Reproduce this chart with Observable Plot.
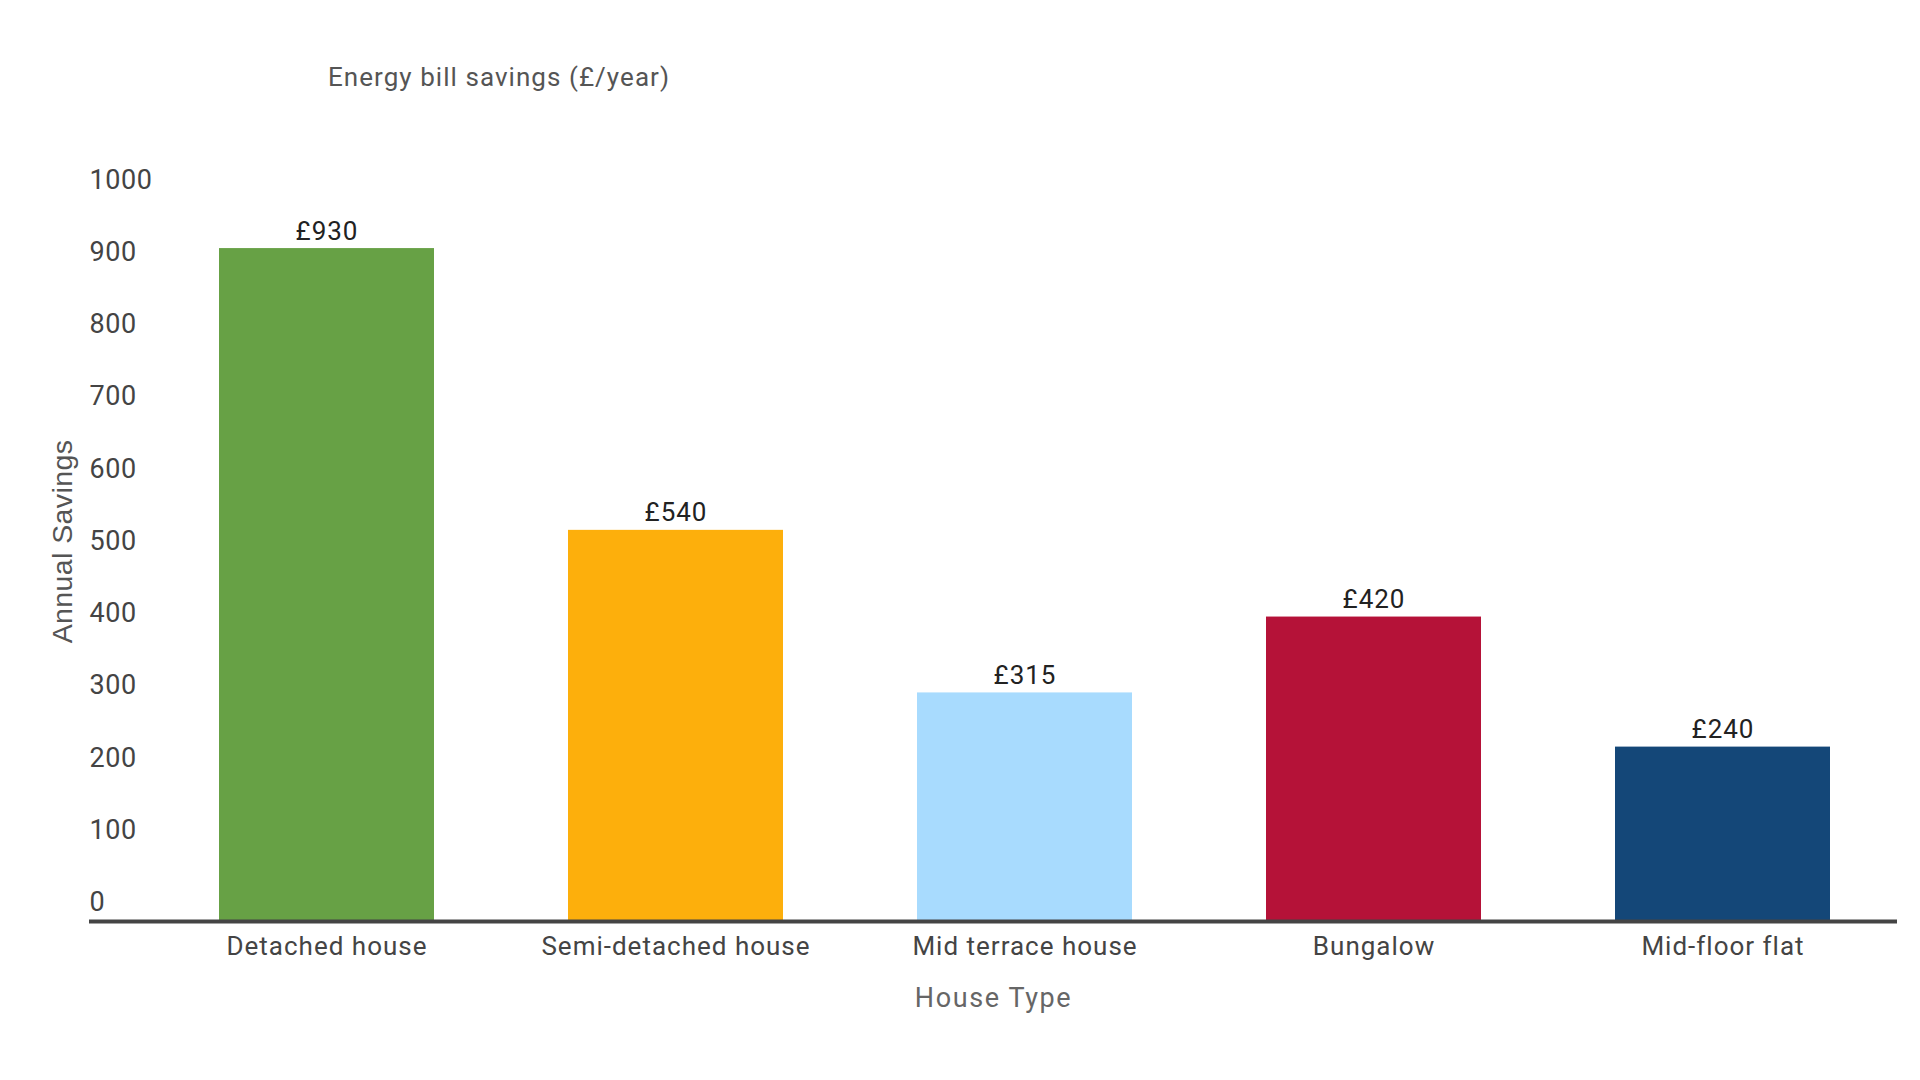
<!DOCTYPE html>
<html>
<head>
<meta charset="utf-8">
<script src="https://cdn.jsdelivr.net/npm/d3@7"></script>
<script src="https://cdn.jsdelivr.net/npm/@observablehq/plot@0.6"></script>
<style>
  html, body { margin: 0; padding: 0; background: #fff; }
  #title { position: relative; height: 120px; width: 1920px; }
  #title span { position: absolute; left: 328px; top: 64px; font: 26px/26px Roboto, sans-serif; letter-spacing: 1.05px; color: #555; white-space: nowrap; }
  #chart svg text { letter-spacing: 1px; }
  #chart svg g.ylab text { letter-spacing: 0.6px; }
  #chart svg g.xtitle text { letter-spacing: 1.6px; }
  #chart svg g.ytitle text { letter-spacing: 0.4px; }
</style>
</head>
<body>
<div id="title"><span>Energy bill savings (£/year)</span></div>
<div id="chart"></div>
<script>
const categories = ["Detached house", "Semi-detached house", "Mid terrace house", "Bungalow", "Mid-floor flat"];
const savings = [930, 540, 315, 420, 240];
const colors = ["#67A145", "#FDAF0C", "#A8DBFE", "#B51238", "#144778"];
const yTicks = [0, 100, 200, 300, 400, 500, 600, 700, 800, 900, 1000];

const data = categories.map((c, i) => ({category: c, value: savings[i], label: "£" + savings[i]}));

const chart = Plot.plot({
  width: 1920,
  height: 960,
  marginTop: 77.5,
  marginBottom: 160,
  marginLeft: 89,
  marginRight: 23,
  style: {fontFamily: "Roboto, sans-serif", background: "#fff", color: "#444"},
  x: {type: "band", domain: categories, paddingInner: 0.383, paddingOuter: 0.19, insetLeft: 64, axis: null},
  y: {domain: [0, 1000], axis: null},
  color: {domain: categories, range: colors},
  marks: [
    Plot.barY(data, {x: "category", y: "value", fill: "category"}),
    Plot.ruleY([0], {stroke: "#444", strokeWidth: 4, dy: 1}),
    Plot.axisX({tickSize: 0, tickPadding: 16.5, fontSize: 26, fill: "#444", label: null}),
    Plot.axisY({ticks: yTicks, tickSize: 0, tickPadding: 0, textAnchor: "start", lineAnchor: "bottom", dy: -9.5, fontSize: 27, fill: "#444", label: null, tickFormat: d3.format("d"), className: "ylab"}),
    Plot.text(data, {x: "category", y: "value", text: "label", dy: -9, lineAnchor: "bottom", fontSize: 26, fill: "#222"}),
    Plot.text(["Annual Savings"], {frameAnchor: "left", rotate: -90, dx: -27, dy: -17.75, textAnchor: "middle", lineAnchor: "middle", fontSize: 28.5, fontFamily: "Liberation Sans, Arial, sans-serif", fill: "#555", className: "ytitle"}),
    Plot.text(["House Type"], {frameAnchor: "bottom", dy: 86, lineAnchor: "bottom", fontSize: 27, fill: "#666", className: "xtitle"})
  ]
});
document.getElementById("chart").appendChild(chart);
</script>
</body>
</html>
